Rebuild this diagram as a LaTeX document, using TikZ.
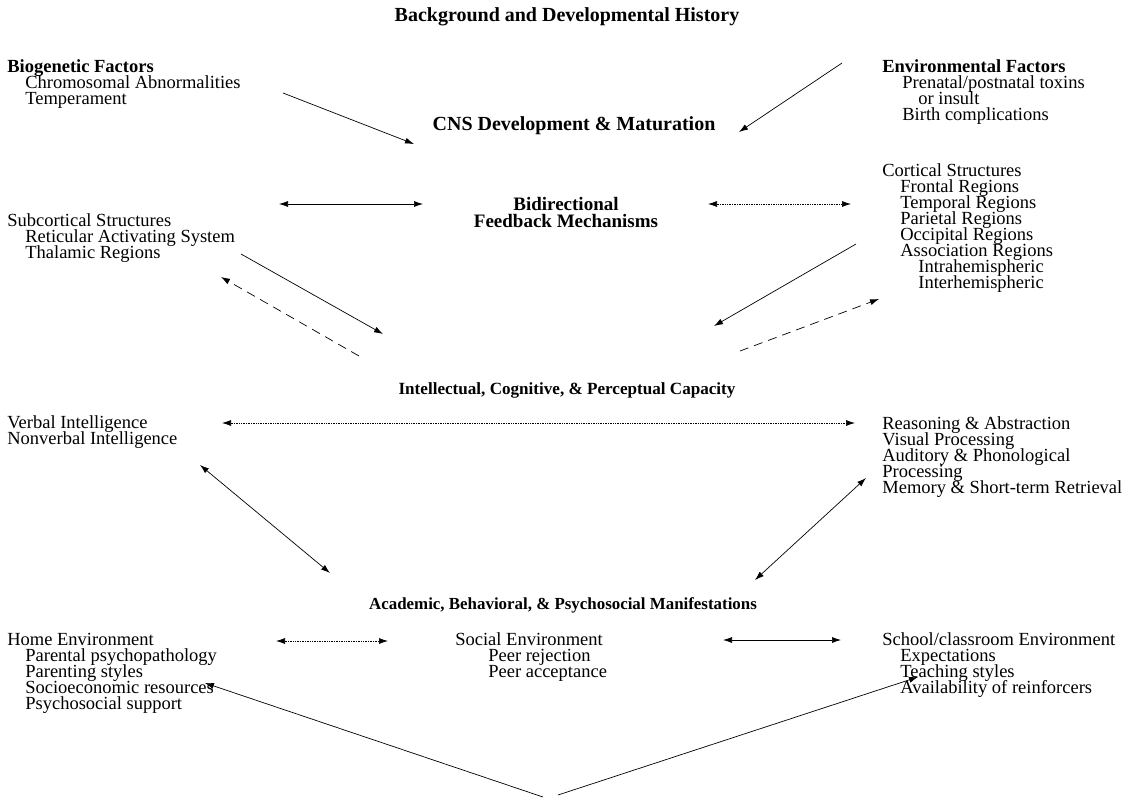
\documentclass[tikz,border=0pt]{standalone}
\usepackage{fontspec}
\setmainfont{Liberation Serif}
\usetikzlibrary{arrows.meta}

\newcommand{\indA}{\hspace*{18pt}}
\newcommand{\indB}{\hspace*{36pt}}
\newcommand{\tightlines}{\lineskiplimit=-20pt\relax}

\begin{document}
\begin{tikzpicture}[x=1pt, y=-1pt, line width=0.7pt,
        >={Latex[length=9pt, width=6pt]},
        txt/.style={anchor=base west, align=left, inner sep=0pt,
            font=\fontsize{18.5}{16}\selectfont\tightlines},
        head/.style={anchor=base, align=center, inner sep=0pt,
            font=\fontsize{#1}{17}\selectfont\bfseries\tightlines},
        dots/.style={densely dotted},
        dashes/.style={dash pattern=on 9pt off 6pt}]
                \useasboundingbox (0,0) rectangle (1138,801);

                % Headings (placed at the baseline of their last line):
                \node[head=20] (history) at (567,21) {Background and Developmental History};
                \node[head=20] (cns) at (574,130) {CNS Development \& Maturation};
                \node[head=19] (feedback) at (566,227) {Bidirectional\\Feedback Mechanisms};
                \node[head=17.1] (capacity) at (567,394) {Intellectual, Cognitive, \& Perceptual Capacity};
                \node[head=16.9] (manifest) at (563,609) {Academic, Behavioral, \& Psychosocial Manifestations};

                % Factors:
                \node[txt] (bio) at (7,104) {\textbf{Biogenetic Factors}\\
                    \indA Chromosomal Abnormalities\\
                    \indA Temperament};
                \node[txt] (env) at (882,120) {\textbf{Environmental Factors}\\
                    \hspace*{20pt}Prenatal/postnatal toxins\\
                    \indB or insult\\
                    \hspace*{20pt}Birth complications};

                % Brain structures:
                \node[txt] (subcort) at (7,258) {Subcortical Structures\\
                    \indA Reticular Activating System\\
                    \indA Thalamic Regions};
                \node[txt] (cortical) at (882,288) {Cortical Structures\\
                    \indA Frontal Regions\\
                    \indA Temporal Regions\\
                    \indA Parietal Regions\\
                    \indA Occipital Regions\\
                    \indA Association Regions\\
                    \indB Intrahemispheric\\
                    \indB Interhemispheric};

                % Abilities:
                \node[txt] (verbal) at (7,444) {Verbal Intelligence\\
                    Nonverbal Intelligence};
                \node[txt] (reasoning) at (882,493) {Reasoning \& Abstraction\\
                    Visual Processing\\
                    Auditory \& Phonological\\
                    Processing\\
                    Memory \& Short-term Retrieval};

                % Environments:
                \node[txt] (home) at (7,709) {Home Environment\\
                    \indA Parental psychopathology\\
                    \indA Parenting styles\\
                    \indA Socioeconomic resources\\
                    \indA Psychosocial support};
                \node[txt] (social) at (455,677) {Social Environment\\
                    \hspace*{33pt}Peer rejection\\
                    \hspace*{33pt}Peer acceptance};
                \node[txt] (school) at (882,693) {School/classroom Environment\\
                    \indA Expectations\\
                    \indA Teaching styles\\
                    \indA Availability of reinforcers};

                % Arrow ends:
                \coordinate (bio-out) at (283,93);
                \coordinate (cns-l) at (414,144);
                \coordinate (env-out) at (842,63);
                \coordinate (cns-r) at (739,132);
                \coordinate (fb-a) at (279,204);
                \coordinate (fb-b) at (423,204);
                \coordinate (fb-c) at (708,204);
                \coordinate (fb-d) at (851,204);
                \coordinate (sub-out) at (241,254);
                \coordinate (cap-l) at (383,334);
                \coordinate (cap-l2) at (359,356);
                \coordinate (sub-in) at (221,277);
                \coordinate (cort-out) at (856,244);
                \coordinate (cap-r) at (714,326);
                \coordinate (cap-r2) at (740,351);
                \coordinate (cort-in) at (879,299);
                \coordinate (verb-r) at (222,423);
                \coordinate (reas-l) at (855,423);
                \coordinate (verb-b) at (200,465);
                \coordinate (man-l) at (330,573);
                \coordinate (reas-b) at (866,478);
                \coordinate (man-r) at (755,580);
                \coordinate (home-r) at (276,641);
                \coordinate (soc-l) at (388,641);
                \coordinate (soc-r) at (723,640);
                \coordinate (school-l) at (841,640);
                \coordinate (home-in) at (205,683);
                \coordinate (school-in) at (918,677);
                \coordinate (base-l) at (543,797);
                \coordinate (base-r) at (558,795);

                % Development:
                \draw[->] (bio-out) -- (cns-l);
                \draw[->] (env-out) -- (cns-r);
                \draw[<->] (fb-a) -- (fb-b);
                \draw[<->, dots] (fb-c) -- (fb-d);

                % Structures to capacity:
                \draw[->] (sub-out) -- (cap-l);
                \draw[->, dashes] (cap-l2) -- (sub-in);
                \draw[->] (cort-out) -- (cap-r);
                \draw[->, dashes] (cap-r2) -- (cort-in);

                % Capacity:
                \draw[<->, dots] (verb-r) -- (reas-l);
                \draw[<->] (verb-b) -- (man-l);
                \draw[<->] (reas-b) -- (man-r);

                % Environments:
                \draw[<->, dots] (home-r) -- (soc-l);
                \draw[<->] (soc-r) -- (school-l);
                \draw[->] (base-l) -- (home-in);
                \draw[->] (base-r) -- (school-in);
            \end{tikzpicture}
\end{document}
